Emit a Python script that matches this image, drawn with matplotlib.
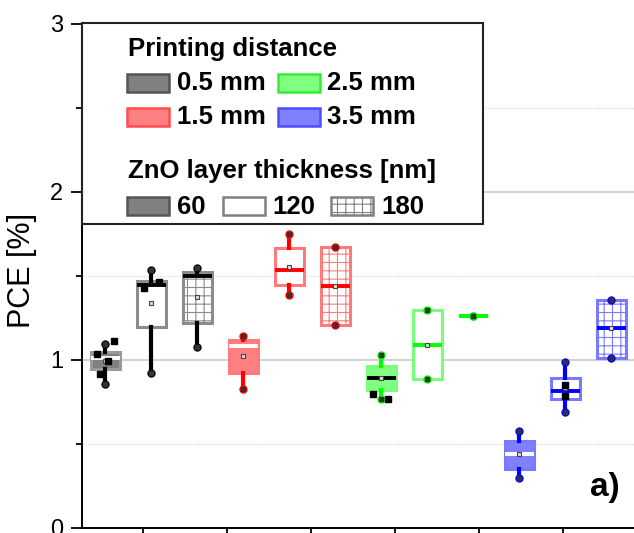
import matplotlib
matplotlib.use('Agg')
import matplotlib.pyplot as plt
import numpy as np
from matplotlib.patches import Rectangle

plt.rcParams['font.family'] = ['Liberation Sans', 'DejaVu Sans']
plt.rcParams['hatch.linewidth'] = 0.8

distances = ['0.5 mm', '1.5 mm', '2.5 mm', '3.5 mm']
thicknesses = ['60', '120', '180']

# box statistics, order: 0.5 mm (60/120/180), 1.5 mm, 2.5 mm, 3.5 mm
q1 = [0.946, 1.195, 1.218, 0.917, 1.446, 1.204, 0.817, 0.881, 1.256, 0.349, 0.762, 1.010]
med = [1.010, 1.442, 1.500, 1.079, 1.534, 1.436, 0.887, 1.089, 1.256, 0.436, 0.815, 1.185]
q3 = [1.046, 1.470, 1.522, 1.115, 1.661, 1.667, 0.960, 1.292, 1.256, 0.514, 0.891, 1.357]
whislo = [0.857, 0.921, 1.073, 0.827, 1.381, 1.204, 0.762, 0.881, 1.256, 0.296, 0.690, 1.010]
whishi = [1.095, 1.532, 1.546, 1.139, 1.746, 1.667, 1.026, 1.292, 1.256, 0.573, 0.988, 1.357]
means = [0.990, 1.337, 1.371, 1.018, 1.549, 1.436, 0.890, 1.089, 1.256, 0.436, 0.830, 1.185]

# single data points drawn on top of the boxes
pt_box = [0, 0, 0, 0, 1, 1, 6, 6, 10, 10]
pt_dx = [0.20, -0.19, 0.05, -0.12, -0.15, 0.17, -0.17, 0.14, 0.0, 0.0]
pt_y = [1.109, 1.034, 0.990, 0.911, 1.427, 1.460, 0.796, 0.762, 0.851, 0.782]

face60 = ['#808080', '#ff8080', '#80ff80', '#8080ff']
edge_col = ['#9a9a9a', '#ff7a7a', '#7aff7a', '#7a7aff']
line_col = ['#000000', '#ff0000', '#00ff00', '#0000ff']
med60_col = ['white', 'white', '#000000', 'white']
leg_edge = ['#555555', '#ff4d4d', '#33ee33', '#4d4dff']

W, H = 634, 533


def fx(x):
    return x / W


def fy(y):
    return 1 - y / H


fig = plt.figure(figsize=(W / 100, H / 100), dpi=100)
ax = fig.add_axes([fx(81.5), 1 - 527.5 / H, (650 - 81.5) / W, (527.5 - 23.5) / H])
ax.set_xlim(0.483, 0.483 + 568.5 / 46)
ax.set_ylim(0, 3)

for g in [1, 2]:
    ax.axhline(g, color='#d3d3d3', lw=1.5, zorder=0)
for g in [0.5, 1.5, 2.5]:
    ax.axhline(g, color='#dcdcdc', lw=1, ls=(0, (1, 1)), zorder=0)

stats = []
for i in range(12):
    stats.append(dict(med=med[i], q1=q1[i], q3=q3[i], whislo=whislo[i],
                      whishi=whishi[i], mean=means[i], fliers=[]))
positions = np.arange(1, 13)
bp = ax.bxp(stats, positions=positions, widths=0.64, patch_artist=True,
            showcaps=False, showmeans=True, showfliers=False,
            meanprops=dict(marker='s', markersize=3, markerfacecolor='#dddddd',
                           markeredgecolor='#444444', markeredgewidth=0.8))

for i in range(12):
    d, t = i // 3, i % 3
    box = bp['boxes'][i]
    box.set_linewidth(2.2)
    box.set_zorder(2)
    if t == 0:
        box.set_facecolor(face60[d])
        box.set_edgecolor(edge_col[d])
    else:
        box.set_facecolor('white')
        box.set_edgecolor('#8c8c8c' if d == 0 else edge_col[d])
        if t == 2:
            box.set_hatch('++')
    for w in bp['whiskers'][2 * i:2 * i + 2]:
        w.set_color(line_col[d])
        w.set_linewidth(3)
        w.set_zorder(2.5)
    m = bp['medians'][i]
    m.set_color(med60_col[d] if t == 0 else line_col[d])
    m.set_linewidth(2.8)
    m.set_zorder(3)
    bp['means'][i].set_zorder(4)

    ends = [whislo[i], whishi[i]]
    ax.plot([positions[i]] * 2, ends, 'o', ms=5, color=line_col[d], zorder=4)
    ax.plot([positions[i]] * 2, ends, 's', ms=2.2, color='#333333', zorder=4.5)

px = [positions[b] + dx for b, dx in zip(pt_box, pt_dx)]
ax.plot(px, pt_y, 's', ms=4.5, color='black', zorder=5)

for s in ['top', 'right']:
    ax.spines[s].set_visible(False)
for s in ['left', 'bottom']:
    ax.spines[s].set_linewidth(1.4)
    ax.spines[s].set_color('black')

ax.set_yticks([0, 1, 2, 3])
ax.set_yticks([0.5, 1.5, 2.5], minor=True)
ax.set_yticklabels(['0', '1', '2', '3'], fontsize=17)
ax.set_xticks(1.826 + 1.823 * np.arange(6))
ax.set_xticklabels([])
ax.tick_params(axis='y', which='major', direction='out', length=8, width=1.3, pad=5)
ax.tick_params(axis='y', which='minor', direction='out', length=4.5, width=1.3)
ax.tick_params(axis='x', direction='out', length=6, width=1.3)

ax.set_ylabel('PCE [%]', fontsize=22)
ax.yaxis.set_label_coords((37 - 81.5) / 568.5, (527.5 - 270) / 504)

# legend drawn by hand
fig.add_artist(Rectangle((fx(82), fy(224)), 401 / W, 201 / H, transform=fig.transFigure,
                         facecolor='white', edgecolor='#222222', lw=1.5, zorder=5))


def leg_patch(x, y, face, edge, hatch=None):
    fig.add_artist(Rectangle((fx(x), fy(y + 18)), 42 / W, 18 / H, transform=fig.transFigure,
                             facecolor=face, edgecolor=edge, lw=1.8, hatch=hatch, zorder=6))


def leg_text(x, y, s):
    fig.text(fx(x), fy(y), s, fontsize=18.5, fontweight='bold', va='baseline', zorder=7)


leg_text(128, 56, 'Printing distance')
slots = [(127, 74, 177), (127, 107.5, 177), (278, 74, 327), (278, 107.5, 327)]
for d in range(4):
    x0, y0, xt = slots[d]
    leg_patch(x0, y0, face60[d], leg_edge[d])
    leg_text(xt, y0 + 16, distances[d])

leg_text(128, 178, 'ZnO layer thickness [nm]')
leg_patch(127, 197, '#808080', '#555555')
leg_text(177, 213.5, thicknesses[0])
leg_patch(223, 197, 'white', '#808080')
leg_text(272, 213.5, thicknesses[1])
leg_patch(331, 197, 'white', '#808080', hatch='++')
leg_text(381, 213.5, thicknesses[2])

fig.text(fx(590), fy(496), 'a)', fontsize=24, fontweight='bold', va='baseline')

fig.savefig('out.png', dpi=100)
